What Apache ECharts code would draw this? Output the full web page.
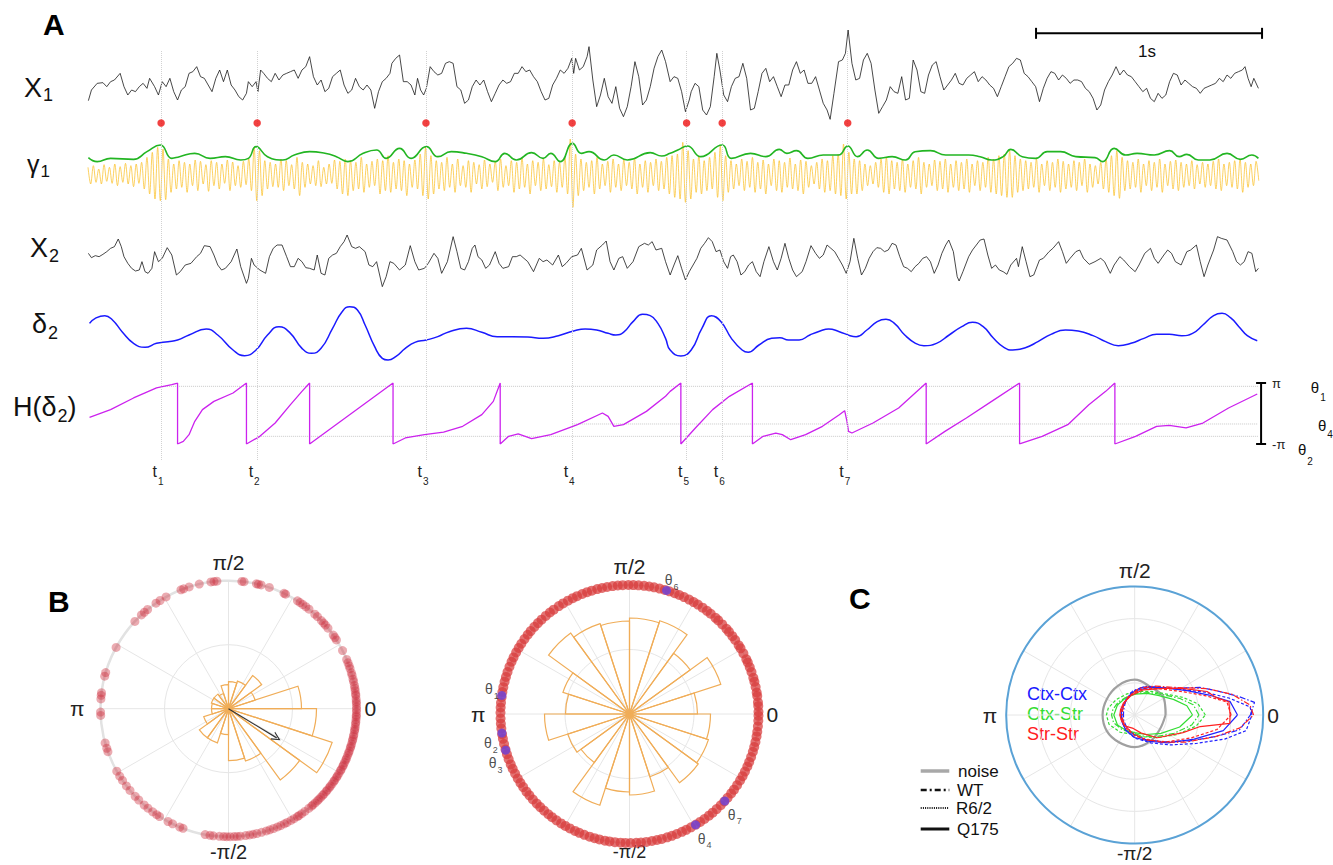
<!DOCTYPE html>
<html><head><meta charset="utf-8">
<script src="https://cdn.jsdelivr.net/npm/echarts@6/dist/echarts.min.js"></script>
<style>html,body{margin:0;padding:0;background:#fff}#c{width:1333px;height:865px}</style>
</head><body><div id="c"></div>
<script>
const FONT = '"Liberation Sans", Arial, Helvetica, sans-serif';
// ---------------- DATA ----------------
// sampling rate of the traces (samples per second)
const FS = 590.5;
// X1 raw trace: [sample, amplitude]
const x1 = [[1,-42],[9,-10],[24,10],[39,12],[49,0],[59,15],[69,20],[84,40],[94,0],[104,-25],[114,-10],[124,-15],[134,0],[144,10],[154,-5],[161,25],[174,0],[184,-25],[194,15],[204,0],[214,25],[224,-15],[234,-40],[244,-10],[254,0],[264,40],[274,45],[284,60],[294,30],[304,25],[314,5],[324,-15],[334,25],[344,50],[354,15],[364,50],[374,5],[384,-10],[394,-30],[404,-40],[414,-20],[419,15],[429,0],[439,15],[444,-15],[451,50],[459,40],[469,25],[479,15],[489,40],[499,20],[509,35],[519,40],[529,45],[539,50],[549,25],[559,50],[569,60],[579,90],[589,30],[599,5],[609,20],[619,-15],[629,-5],[639,30],[649,40],[659,50],[669,5],[679,-20],[689,-10],[699,25],[709,0],[719,-10],[729,5],[739,-10],[749,-65],[759,-15],[769,15],[779,25],[789,40],[794,70],[804,85],[814,95],[824,15],[834,15],[844,5],[854,-25],[861,25],[869,-10],[877,-25],[884,-5],[894,60],[904,45],[914,35],[924,40],[934,70],[944,75],[954,70],[964,0],[974,-10],[984,-50],[994,-40],[1004,0],[1014,20],[1024,5],[1034,20],[1044,-15],[1054,-45],[1064,-20],[1074,5],[1084,20],[1094,10],[1104,15],[1114,40],[1124,40],[1134,60],[1144,45],[1154,50],[1164,30],[1174,15],[1184,-15],[1194,-40],[1204,-35],[1214,5],[1224,25],[1234,50],[1244,40],[1254,55],[1264,85],[1269,40],[1274,85],[1284,50],[1294,60],[1304,90],[1309,120],[1319,20],[1329,-60],[1339,-25],[1349,25],[1359,-30],[1369,-50],[1379,0],[1389,-65],[1399,-90],[1409,-60],[1419,0],[1429,75],[1439,30],[1449,-55],[1459,-40],[1469,0],[1479,55],[1489,90],[1499,110],[1509,75],[1521,15],[1531,30],[1541,25],[1551,-15],[1561,-75],[1571,-40],[1576,-15],[1586,10],[1596,0],[1606,-70],[1616,-85],[1626,-60],[1636,30],[1643,100],[1651,50],[1661,-25],[1671,-45],[1681,0],[1691,25],[1701,30],[1711,70],[1721,25],[1731,-70],[1741,-65],[1751,-15],[1761,40],[1771,55],[1781,15],[1791,30],[1801,0],[1811,-30],[1821,5],[1831,5],[1841,50],[1851,75],[1861,40],[1871,50],[1881,10],[1891,10],[1901,30],[1911,-10],[1921,-50],[1931,-70],[1939,-98],[1949,-20],[1961,75],[1971,80],[1979,100],[1986,170],[1996,70],[2006,20],[2016,25],[2026,80],[2036,100],[2046,70],[2056,-10],[2066,-80],[2076,-60],[2086,-40],[2096,0],[2106,-15],[2116,-20],[2126,30],[2136,-40],[2146,-35],[2156,80],[2166,50],[2176,-15],[2186,-20],[2196,35],[2206,65],[2216,75],[2226,30],[2236,-10],[2246,5],[2256,20],[2266,40],[2276,10],[2286,5],[2296,25],[2306,35],[2316,45],[2326,15],[2336,30],[2346,20],[2356,5],[2366,-5],[2376,-30],[2386,0],[2396,30],[2406,60],[2416,70],[2426,85],[2436,80],[2446,40],[2456,30],[2466,15],[2476,0],[2486,-45],[2496,-5],[2506,25],[2516,45],[2526,40],[2536,20],[2546,35],[2556,25],[2566,10],[2576,20],[2586,20],[2596,15],[2606,-5],[2616,-15],[2626,-35],[2636,-70],[2646,-55],[2656,-10],[2666,15],[2676,35],[2686,60],[2696,35],[2706,50],[2716,35],[2726,30],[2736,15],[2746,0],[2756,-15],[2766,-5],[2776,-35],[2786,-45],[2796,-20],[2806,-35],[2816,-25],[2826,15],[2836,40],[2846,35],[2856,5],[2866,20],[2876,10],[2886,0],[2896,-5],[2906,-20],[2916,-5],[2926,0],[2936,5],[2946,10],[2956,25],[2966,15],[2976,35],[2986,25],[2996,40],[3006,45],[3016,50],[3023,60],[3031,25],[3039,0],[3046,25],[3058,-5]];
// gamma-band filtered X1: alternating peak / trough values, one every GAMMA_STEP samples
const GAMMA_STEP = 7;
const gammaOsc = [20,-30,25,-25,15,-30,28,-22,20,-28,30,-35,22,-25,32,-30,25,-38,30,-28,
35,-45,50,-60,65,-75,80,-80,75,-77,45,-55,30,-45,
40,-40,35,-55,30,-35,42,-50,38,-30,28,-52,40,-35,35,-45,30,-28,42,-50,36,-35,25,-40,38,-32,45,-50,
80,-80,70,-65,40,-45,35,-38,
30,-40,45,-50,40,-35,28,-45,50,-65,35,-40,30,-30,25,-35,40,-38,20,-30,30,-28,42,-45,38,-60,45,-65,40,-50,35,-45,50,-55,30,-40,38,-35,45,-60,40,-50,55,-55,35,-45,45,-50,40,-65,30,-40,42,-45,60,-65,
80,-75,55,-60,
40,-45,35,-50,50,-40,30,-55,45,-35,25,-40,40,-55,35,-30,28,-45,42,-38,30,-25,38,-50,45,-40,25,-35,40,-55,35,-45,48,-40,30,-60,40,-35,35,-50,45,-45,28,-38,40,-55,35,-40,50,-60,
105,-100,60,-65,
45,-50,35,-40,40,-60,50,-45,30,-35,38,-55,45,-40,30,-50,42,-35,35,-45,48,-60,30,-40,40,-55,35,-35,45,-50,38,-45,50,-60,55,-70,60,-75,
95,-85,70,-75,
45,-55,55,-60,40,-50,50,-45,65,-70,
85,-80,55,-55,
40,-45,30,-35,45,-50,38,-40,50,-55,35,-45,42,-60,30,-35,45,-50,40,-55,35,-40,48,-45,30,-50,42,-60,38,-40,25,-30,35,-45,45,-55,40,-50,55,-60,60,-65,
90,-75,65,-60,
45,-60,40,-50,30,-35,25,-30,35,-40,45,-55,50,-60,40,-45,35,-50,45,-55,30,-40,40,-45,50,-60,35,-40,30,-35,42,-50,38,-45,45,-55,30,-40,40,-50,35,-45,45,-55,30,-35,40,-50,35,-40,50,-55,45,-60,55,-65,60,-70,
70,-70,55,-55,
45,-50,40,-45,35,-40,45,-55,30,-35,40,-50,35,-40,45,-55,38,-45,30,-40,40,-50,35,-35,45,-55,30,-40,25,-30,35,-45,45,-55,55,-65,
70,-73,50,-50,
40,-45,35,-40,45,-55,30,-35,40,-50,35,-40,45,-55,30,-35,38,-45,42,-50,35,-40,30,-35,40,-45,28,-30,35,-40,30,-35,38,-45,45,-50,30,-35,35,-40,40,-45,45,-55,35,-40,30,-35,38,-20];
// gamma amplitude envelope: [sample, amplitude]
const gammaEnv = [[1,42],[24,30],[59,40],[119,37],[154,60],[189,80],[219,40],[239,45],[279,55],[319,40],[359,45],[399,35],[419,40],[439,75],[469,45],[509,35],[539,50],[579,60],[619,55],[649,45],[679,30],[719,55],[754,65],[779,40],[814,70],[844,40],[884,75],[914,45],[949,60],[989,55],[1029,45],[1064,30],[1089,55],[1119,35],[1159,57],[1189,40],[1209,55],[1234,30],[1266,85],[1289,55],[1309,60],[1349,35],[1374,50],[1409,35],[1469,57],[1499,47],[1521,55],[1541,65],[1566,77],[1601,45],[1657,80],[1681,40],[1731,55],[1771,45],[1806,67],[1826,55],[1851,63],[1881,40],[1921,50],[1961,50],[1985,77],[2011,45],[2036,65],[2066,40],[2101,45],[2136,35],[2161,60],[2201,63],[2241,50],[2301,50],[2331,45],[2361,35],[2391,45],[2411,67],[2441,45],[2476,40],[2506,60],[2541,60],[2581,45],[2631,42],[2651,30],[2681,70],[2711,50],[2741,55],[2786,50],[2826,63],[2851,45],[2871,52],[2901,35],[2931,35],[2976,55],[3011,37],[3041,50],[3058,40]];
// X2 raw trace
const x2 = [[1,15],[9,2],[19,8],[29,5],[39,12],[49,20],[59,30],[69,35],[79,58],[87,35],[94,5],[104,-15],[114,-30],[124,-38],[134,-35],[141,-10],[149,-40],[157,-45],[167,-30],[174,20],[184,-10],[194,0],[207,32],[219,10],[231,-50],[241,-40],[254,-20],[269,-15],[284,5],[294,15],[304,38],[319,35],[329,10],[339,-20],[349,-35],[359,-30],[374,-10],[389,28],[399,-25],[414,-75],[419,-60],[427,0],[434,-20],[449,-35],[464,-45],[474,5],[484,30],[494,40],[507,40],[519,5],[529,-25],[539,-25],[549,0],[559,-10],[569,-28],[579,-30],[591,-35],[599,10],[609,-45],[619,-50],[629,0],[639,10],[649,15],[659,35],[669,50],[677,70],[689,35],[699,30],[709,35],[724,20],[734,-20],[744,-25],[754,-10],[769,-85],[779,-55],[789,-10],[799,-15],[814,-35],[829,-20],[842,38],[854,-10],[864,-35],[879,-30],[889,-15],[904,15],[914,0],[924,-45],[939,-10],[954,65],[964,20],[974,-30],[984,-35],[994,-10],[1004,30],[1011,40],[1019,5],[1029,-5],[1039,-30],[1049,-20],[1064,20],[1074,-15],[1084,-30],[1099,-25],[1109,5],[1119,5],[1129,10],[1139,0],[1149,-10],[1164,-40],[1179,0],[1189,-10],[1199,-5],[1214,-20],[1229,10],[1239,-25],[1249,-15],[1264,5],[1279,10],[1289,30],[1304,-35],[1319,-20],[1329,25],[1344,40],[1354,52],[1364,-10],[1374,-35],[1387,0],[1397,5],[1409,-30],[1424,-10],[1439,35],[1454,45],[1464,40],[1474,50],[1484,25],[1499,30],[1509,-10],[1521,-50],[1531,-20],[1541,8],[1551,-30],[1561,-65],[1571,-40],[1581,-20],[1591,0],[1601,30],[1611,45],[1621,62],[1631,50],[1641,20],[1651,25],[1661,-10],[1671,-30],[1679,5],[1686,10],[1696,-10],[1706,-50],[1716,-40],[1726,-20],[1736,-10],[1746,-40],[1756,-55],[1766,-10],[1779,35],[1791,-10],[1801,-35],[1811,0],[1821,45],[1831,0],[1841,-35],[1851,-55],[1866,-40],[1876,-10],[1889,38],[1901,15],[1911,0],[1921,10],[1931,40],[1941,30],[1951,20],[1961,0],[1971,-20],[1981,-45],[1991,-10],[2001,60],[2011,0],[2021,-50],[2031,-30],[2041,0],[2051,20],[2061,32],[2071,30],[2081,20],[2091,25],[2101,45],[2111,40],[2121,5],[2131,-25],[2141,-30],[2151,-40],[2161,-25],[2171,-15],[2181,0],[2191,5],[2201,-10],[2211,-45],[2221,-20],[2231,15],[2241,40],[2249,55],[2261,20],[2271,-55],[2276,-68],[2286,-40],[2301,5],[2311,25],[2321,40],[2331,55],[2341,58],[2351,10],[2361,-30],[2371,-20],[2381,-35],[2391,-40],[2401,-48],[2411,-20],[2426,0],[2431,-25],[2441,35],[2451,-10],[2461,-55],[2471,-50],[2486,-5],[2496,0],[2511,20],[2521,30],[2536,50],[2546,20],[2556,-15],[2566,0],[2581,20],[2591,25],[2601,0],[2616,-18],[2631,-10],[2646,0],[2656,-10],[2671,-45],[2681,-20],[2696,5],[2706,-5],[2721,-25],[2736,-40],[2746,-20],[2761,15],[2776,30],[2786,0],[2796,-15],[2811,10],[2821,25],[2831,15],[2841,-10],[2856,-20],[2871,20],[2881,25],[2896,40],[2906,-10],[2916,-55],[2926,-20],[2941,25],[2951,65],[2961,60],[2976,55],[2991,20],[3001,-10],[3011,-20],[3021,-10],[3031,20],[3041,15],[3051,-40],[3058,-30]];
// delta-band filtered X2
const delta2 = [[4,25],[19,40],[44,48],[64,35],[89,0],[119,-35],[149,-47],[179,-35],[209,-30],[234,-25],[264,-10],[309,8],[339,-10],[379,-55],[409,-72],[439,-55],[469,-10],[499,15],[529,-5],[559,-50],[584,-65],[609,-50],[639,10],[664,60],[684,75],[704,65],[724,20],[749,-45],[769,-80],[784,-85],[804,-75],[829,-50],[854,-32],[884,-25],[914,-15],[944,0],[989,10],[1029,-2],[1069,-15],[1109,-15],[1149,-16],[1189,-20],[1229,-12],[1269,2],[1299,8],[1329,5],[1359,-5],[1379,-10],[1399,-2],[1424,30],[1449,52],[1469,48],[1489,25],[1509,-20],[1521,-55],[1549,-73],[1576,-55],[1604,10],[1629,48],[1654,30],[1681,-20],[1709,-55],[1725,-62],[1753,-40],[1786,-20],[1808,-18],[1830,-25],[1858,-25],[1886,-10],[1913,2],[1935,8],[1963,0],[1991,-12],[2007,-15],[2035,5],[2062,30],[2085,37],[2107,25],[2134,-10],[2162,-35],[2184,-42],[2217,-35],[2250,-10],[2283,15],[2311,28],[2339,15],[2366,-20],[2394,-48],[2416,-55],[2449,-48],[2482,-30],[2516,-8],[2554,5],[2587,2],[2626,-12],[2659,-30],[2692,-42],[2725,-35],[2759,-20],[2792,-8],[2825,-8],[2858,-12],[2886,-5],[2913,20],[2941,48],[2963,55],[2985,42],[3007,15],[3029,-12],[3055,-27]];
// Hilbert phase of delta2 (radians)
const hPhase = [[4,-0.40],[59,0.40],[119,1.60],[179,2.63],[219,2.97],[234,3.14],[234,-3.14],[249,-2.87],[264,-2.18],[279,-0.81],[299,0.40],[329,1.25],[379,2.11],[414,3.14],[414,-3.14],[449,-2.35],[489,-0.98],[529,0.91],[559,2.28],[579,3.14],[579,-3.14],[797,3.14],[797,-3.14],[829,-2.52],[879,-2.18],[929,-1.91],[979,-1.32],[1029,-0.12],[1059,1.25],[1077,3.14],[1077,-3.14],[1099,-2.35],[1124,-2.11],[1159,-2.59],[1209,-2.18],[1279,-1.15],[1344,0.05],[1359,-0.29],[1374,-1.32],[1399,-1.15],[1459,0.22],[1509,1.77],[1521,2.28],[1549,3.14],[1549,-3.14],[1587,-1.49],[1632,0.40],[1676,1.77],[1736,3.14],[1736,-3.14],[1764,-2.35],[1797,-2.01],[1814,-2.18],[1836,-2.70],[1875,-2.18],[1919,-1.32],[1963,-0.12],[1977,0.29],[1983,-0.81],[1987,-1.84],[1996,-2.01],[2051,-0.98],[2118,0.57],[2190,3.14],[2190,-3.14],[2239,-1.84],[2295,-0.46],[2361,1.25],[2434,3.14],[2434,-3.14],[2493,-2.35],[2560,-1.15],[2615,0.91],[2659,2.28],[2683,3.14],[2683,-3.14],[2737,-2.35],[2792,-1.32],[2825,-1.22],[2869,-1.49],[2913,-0.98],[2980,0.57],[3055,2.01]];
// gamma events t1..t7 (samples)
const eventTimes = [191, 442, 883, 1265, 1564, 1657, 1985];
const eventNames = ['1','2','3','4','5','6','7'];
// phase levels theta_i drawn in H(delta2)
const thetaNames = ['1','2','4'];
const thetaTimes = [191, 442, 1265];
const thetaPhases = [2.80, -2.35, -1.08];
// scale bar start (samples)
const scaleBarStart = 2477;

// Panel B: rose histogram bins (18 degree bins from 0, counter-clockwise)
const roseBins = ['0','18','36','54','72','90','108','126','144','162','180','198','216','234','252','270','288','306','324','342'];
const roseLeft = [73,28,41,29,27,24,16,18,18,17,17,26,36,36,26,52,55,88,109,88];
const roseMiddle = [68,96,75,98,96,93,95,100,70,64,85,65,60,96,78,81,66,85,83,81];
// phases (degrees) of the individual events, left plot
const phasesLeft = [111.8,110.5,107.9,103.2,97.9,96.5,95.2,84,83,77.4,76.5,75.2,71.4,64.3,63.5,57.4,56,54.5,52.8,51,47.6,46,43.5,42,40.8,39,35.1,33.8,32.5,27,22.6,21,19.5,18.2,16.3,15.1,13.3,12.2,10.4,9.2,8.1,6.6,5.9,4.3,3.1,2.2,0.8,-0.4,-1.5,-2.9,-3.6,-4.8,-6.1,-6.9,-8.3,-9.4,-10.2,-11.7,-12.5,-13.8,-14.6,-16.0,-17.2,-17.9,-19.4,-20.3,-21.5,-22.8,-23.6,-24.9,-26.1,-26.8,-28.3,-29.0,-30.4,-31.7,-32.5,-33.9,-34.6,-36.0,-37.2,-38.1,-39.5,-40.3,-41.8,-42.6,-43.9,-45.1,-46.0,-47.4,-48.7,-49.5,-51.2,-53.4,-55.1,-56.6,-57.4,-59.2,-60.8,-62.8,-64.1,-65.9,-67.5,-69.4,-71.2,-72.8,-75.0,-77.2,-78.9,-80.5,-82.3,-84.7,-86.1,-87.5,-89.3,-90.8,-92.2,-94.1,-96.8,-98.3,-100.5,-110.8,-112.4,-115.9,-118.2,-122.6,-124.1,-126.3,-129,-131.2,-134.5,-136.8,-140.3,-142.9,-145.9,-148.2,-150.8,-160.4,-162,-164.5,-177,-178.5,175.6,174,172.8,165.3,163.6,151.4,137,132.9,131.1,129.2,124.5,122.3,119.2];
// mean resultant vector, left plot
const meanAngle = -31.2, meanLength = 0.44;
// phases (degrees), middle plot
const phasesMiddle = [1,3.5,5.2,8,9.6,12.1,14.5,16.3,19,21.2,23.5,25.1,28,30.6,32.2,35,37.1,39.5,41.3,44,46.5,48.2,51,53.1,55.5,58,60.2,62.5,65,67.3,69.5,72,74.1,76.5,79,81.2,83.5,86,88.3,90.5,93,95.2,97.5,100,102.3,104.5,107,109.2,111.5,114,116.1,118.5,121,123.2,126,128.1,130.5,133,135.2,137.5,140,142.1,144.5,147,149.2,151.5,154,156.1,158.5,161,163.3,165.5,168,170.2,172.5,175,177.1,179.5,182,184.3,186.5,189,191.1,193.5,196,198.2,200.5,203,205.1,207.5,210,212.3,214.5,217,219.1,221.5,224,226.2,228.5,231,233.1,235.5,238,240.2,242.5,245,247.1,249.5,252,254.3,256.5,259,261.1,263.5,266,268.2,270.5,273,275.1,277.5,280,282.3,284.5,287,289.2,291.5,294,296.1,298.5,301,303.2,305.5,308,310.1,312.5,315,317.3,319.5,322,324.1,326.5,329,331.2,333.5,336,338.1,340.5,343,345.2,347.5,350,352.1,354.5,357,359.2];
// phases of the seven marked events (degrees)
const thetaMarkNames = ['6','1','2','3','7','4'];
const thetaMarkAngles = [73.3, 171.7, 188.5, 196.3, 317.6, 300.8];

// Panel C: phase-locking contours [angle deg, radius]
const noiseCurve = [[0,0.96],[30,1.05],[60,1.0],[90,1.1],[120,1.05],[150,1.0],[180,1.0],[210,1.0],[240,0.98],[270,1.0],[300,0.95],[330,0.9],[360,0.96]];
const ctxCtxWT = [[0,3.6],[6,3.75],[10,3.3],[16,2.7],[23,2.2],[35,1.45],[50,1.1],[70,0.95],[95,0.75],[125,0.5],[155,0.38],[180,0.35],[205,0.38],[235,0.45],[265,0.6],[295,0.85],[318,1.25],[335,1.9],[345,2.6],[352,3.3],[360,3.6]];
const ctxCtxR62 = [[0,3.65],[4,3.6],[10,3.0],[18,2.3],[30,1.6],[50,1.15],[75,0.9],[100,0.7],[130,0.5],[160,0.42],[180,0.4],[210,0.45],[240,0.55],[270,0.72],[300,1.0],[320,1.45],[335,2.1],[345,2.9],[352,3.5],[360,3.65]];
const ctxCtxQ175 = [[0,3.2],[8,3.0],[15,2.4],[25,1.8],[40,1.3],[60,1.0],[90,0.75],[120,0.55],[150,0.45],[180,0.42],[210,0.45],[240,0.55],[270,0.7],[300,0.95],[320,1.35],[338,2.0],[350,2.8],[360,3.2]];
const strStrWT = [[0,3.7],[5,3.6],[12,3.1],[20,2.4],[35,1.5],[55,1.1],[80,0.85],[110,0.6],[140,0.45],[170,0.4],[200,0.4],[230,0.45],[260,0.55],[290,0.8],[315,1.2],[332,1.8],[345,2.6],[353,3.3],[360,3.7]];
const strStrR62 = [[0,3.0],[8,2.9],[15,2.3],[25,1.7],[45,1.15],[70,0.9],[100,0.65],[130,0.5],[160,0.45],[180,0.45],[210,0.45],[240,0.5],[270,0.65],[300,0.9],[320,1.3],[338,1.9],[350,2.6],[360,3.0]];
const strStrQ175 = [[0,2.97],[8,2.96],[12,2.6],[18,2.37],[28,1.75],[40,1.3],[71,0.83],[100,0.62],[134,0.51],[160,0.47],[180,0.46],[200,0.45],[230,0.45],[264,0.42],[290,0.6],[315,1.0],[340,1.6],[350,2.07],[355,2.97],[360,2.97]];
const ctxStrWT = [[0,2.0],[10,1.85],[20,1.5],[35,1.1],[55,0.85],[80,0.7],[110,0.62],[140,0.65],[165,0.7],[180,0.72],[200,0.7],[230,0.6],[260,0.55],[290,0.7],[315,0.95],[335,1.35],[350,1.8],[360,2.0]];
const ctxStrR62 = [[0,2.2],[10,2.0],[20,1.6],[35,1.15],[55,0.9],[80,0.75],[110,0.7],[140,0.75],[165,0.85],[180,0.88],[200,0.85],[230,0.7],[260,0.6],[290,0.72],[315,1.0],[335,1.45],[350,1.95],[360,2.2]];
const ctxStrQ175 = [[0,1.8],[10,1.65],[22,1.3],[40,0.95],[60,0.78],[90,0.65],[120,0.6],[150,0.62],[180,0.65],[210,0.62],[240,0.55],[270,0.55],[300,0.7],[325,1.0],[345,1.45],[360,1.8]];

// ---------------- LAYOUT / STYLE ----------------
const X_MAX = 3070;
const grids = [
  {top: 20, height: 100}, {top: 110, height: 100}, {top: 225, height: 70},
  {top: 295, height: 70}, {top: 383, height: 61}, {top: 51, height: 409}
].map(g => ({left: 88, width: 1175, top: g.top, height: g.height}));
// last entry: separate offset axis for the gamma oscillation inside grid 1
const yRanges = [[-100, 200], [-115, 185], [-110, 100], [-100, 110], [-Math.PI, Math.PI], [0, 1], [-108, 192]];
const yGrid = [0, 1, 2, 3, 4, 5, 1];
const DOT_LEVEL = 146, SCALE_LEVEL = 160, HBAR_N = 3065;
const ORANGE = '#f0ad58';
const norm = a => ((a % 360) + 360) % 360;

function trace(i, data, color, width, extra) {
  return Object.assign({type: 'line', xAxisIndex: i, yAxisIndex: i, data, symbol: 'none', showSymbol: false,
    silent: true, lineStyle: {color, width}}, extra || {});
}
// pads: extra distance of the 0 / π/2 / π labels from the circle; bottomSize: font size of -π/2
function valueAngle(polarIndex, color, width, margin, pads, bottomSize) {
  const lbl = {0: '{r|0}', 90: '{t|π/2}', 180: '{l|π}', 270: '{b|-π/2}'};
  const tok = (size, padding) => ({fontSize: size, fontFamily: FONT, color: '#222', padding});
  return {polarIndex, type: 'value', min: 0, max: 360, interval: 30, startAngle: 0, clockwise: false,
    axisLine: {show: true, lineStyle: {color, width}}, axisTick: {show: false},
    splitLine: {show: true, lineStyle: {color: '#e6e6e6', width: 1}},
    axisLabel: {show: true, margin, fontFamily: FONT, fontSize: 21, color: '#222',
      rich: {r: tok(21, [0, 0, 0, pads[0]]), t: tok(21, [0, 0, pads[1], 0]), l: tok(21, [0, pads[2], 0, 0]),
             b: {fontSize: bottomSize, lineHeight: bottomSize - 2, fontFamily: FONT, color: '#222'}},
      formatter: v => (lbl[v] !== undefined ? lbl[v] : '')}};
}
function valueRadius(polarIndex, max, interval) {
  return {polarIndex, type: 'value', min: 0, max, interval, axisLine: {show: false}, axisTick: {show: false},
    axisLabel: {show: false}, splitLine: {show: true, lineStyle: {color: '#e6e6e6', width: 1}}};
}
function catAngle(polarIndex) {
  return {polarIndex, type: 'category', data: roseBins, startAngle: 0, clockwise: false, boundaryGap: true,
    axisLine: {show: false}, axisTick: {show: false}, axisLabel: {show: false}, splitLine: {show: false}};
}
function hiddenRadius(polarIndex, max) {
  return {polarIndex, type: 'value', min: 0, max, axisLine: {show: false}, axisTick: {show: false},
    axisLabel: {show: false}, splitLine: {show: false}};
}
const RICH = (mSize, sSize, drop, color) => ({
  m: {fontSize: mSize, lineHeight: mSize, fontFamily: FONT, verticalAlign: 'top', fill: color || '#111', color: color || '#111'},
  s: {fontSize: sSize, lineHeight: sSize, fontFamily: FONT, verticalAlign: 'top', padding: [drop, 0, 0, 1], fill: color || '#111', color: color || '#111'}
});
function rtext(x, y, text, rich) {
  return {type: 'text', x, y, silent: true, style: {text, rich, align: 'left', verticalAlign: 'top', fill: '#111', font: '16px ' + FONT}};
}
function ptext(x, y, text, font, color, align, vAlign) {
  return {type: 'text', x, y, silent: true, style: {text, font: font + ' ' + FONT, fill: color || '#111', align: align || 'left', verticalAlign: vAlign || 'middle'}};
}
function gline(x1, y1, x2, y2, color, width, dash) {
  return {type: 'line', silent: true, shape: {x1, y1, x2, y2}, style: {stroke: color, lineWidth: width, lineDash: dash || null}};
}

const series = [];
// event lines + t labels
series.push({type: 'line', xAxisIndex: 5, yAxisIndex: 5, data: [[0, 0]], symbol: 'none', lineStyle: {width: 0}, silent: true, z: 1,
  markLine: {silent: true, symbol: 'none', animation: false,
    lineStyle: {type: 'dotted', color: '#d2d2d2', width: 1},
    label: {show: true, position: 'start', distance: 3, offset: [-3, 0], formatter: p => '{t|t}{s|' + p.name + '}',
      rich: {t: {fontSize: 16, lineHeight: 16, verticalAlign: 'top', color: '#222', fontFamily: FONT},
             s: {fontSize: 10, lineHeight: 10, verticalAlign: 'top', padding: [13, 0, 0, 1], color: '#222', fontFamily: FONT}}},
    data: eventTimes.map((t, i) => ({xAxis: t, name: eventNames[i]}))}});
series.push(trace(0, x1, '#1a1a1a', 0.8, {z: 3}));
series.push(trace(0, [[scaleBarStart, SCALE_LEVEL], [scaleBarStart + FS, SCALE_LEVEL]], '#000', 2,
  {symbol: 'rect', showSymbol: true, symbolSize: [2, 11], itemStyle: {color: '#000'}, z: 4}));
series.push(trace(1, gammaOsc.map((v, i) => [i * GAMMA_STEP, v]), '#fbc22c', 0.75, {yAxisIndex: 6, smooth: 0.35, z: 3}));
series.push(trace(1, gammaEnv, '#22b522', 1.6, {smooth: true, z: 4}));
series.push({type: 'scatter', xAxisIndex: 1, yAxisIndex: 1, data: eventTimes.map(t => [t, DOT_LEVEL]), symbolSize: 7.5,
  itemStyle: {color: '#ee1111'}, silent: true, z: 5});
series.push(trace(2, x2, '#1a1a1a', 0.8, {z: 3}));
series.push(trace(3, delta2, '#1a1aff', 1.5, {smooth: true, z: 3}));
thetaTimes.forEach((t, i) => series.push(trace(4, [[t, thetaPhases[i]], [HBAR_N - 8, thetaPhases[i]]], '#c8c8c8', 1,
  {lineStyle: {color: '#c8c8c8', width: 1, type: 'dotted'}, z: 2})));
series.push(trace(4, hPhase, '#cc22ee', 1.3, {z: 3}));
series.push(trace(4, [{value: [HBAR_N, Math.PI], label: {formatter: 'π'}}, {value: [HBAR_N, -Math.PI], label: {formatter: '-π'}}], '#000', 2,
  {symbol: 'rect', showSymbol: true, symbolSize: [10, 2], itemStyle: {color: '#000'}, clip: false, z: 4,
   label: {show: true, position: 'right', distance: 6, fontSize: 13, color: '#222', fontFamily: FONT}}));

// Panel B left
series.push({type: 'bar', coordinateSystem: 'polar', polarIndex: 1, data: roseLeft, barCategoryGap: '0%', silent: true, z: 3,
  itemStyle: {color: 'rgba(255,255,255,0)', borderColor: ORANGE, borderWidth: 1.2}});
series.push({type: 'scatter', coordinateSystem: 'polar', polarIndex: 0, data: phasesLeft.map(a => [1, norm(a)]), symbolSize: 9,
  itemStyle: {color: 'rgba(205,45,60,0.5)'}, silent: true, z: 4,
  markLine: {silent: true, animation: false, symbol: ['none', 'path://M0,10 L5,0 L10,10 L8.6,10 L5,2.8 L1.4,10 Z'], symbolSize: [9, 9],
    lineStyle: {color: '#333', width: 1.2, type: 'solid'}, label: {show: false},
    data: [[{coord: [0, norm(meanAngle)]}, {coord: [meanLength, norm(meanAngle)]}]]}});
// Panel B middle
series.push({type: 'bar', coordinateSystem: 'polar', polarIndex: 3, data: roseMiddle, barCategoryGap: '0%', silent: true, z: 3,
  itemStyle: {color: 'rgba(255,255,255,0)', borderColor: ORANGE, borderWidth: 1.2}});
series.push({type: 'scatter', coordinateSystem: 'polar', polarIndex: 2, data: phasesMiddle.map(a => [1, norm(a)]), symbolSize: 10,
  itemStyle: {color: 'rgba(216,60,60,0.9)'}, silent: true, z: 4});
const thetaOffsets = [[5, -10], [-10, -6], [-11, 10], [-10, 13], [10, 14], [9, 14]];
series.push({type: 'scatter', coordinateSystem: 'polar', polarIndex: 2, silent: true, z: 5, symbolSize: 9,
  itemStyle: {color: '#6a44dd'},
  data: thetaMarkAngles.map((a, i) => ({value: [1, norm(a)], name: thetaMarkNames[i],
    label: {show: true, position: 'inside', offset: thetaOffsets[i], formatter: '{m|θ}{s|' + thetaMarkNames[i] + '}',
      rich: {m: {fontSize: 14, lineHeight: 14, verticalAlign: 'top', color: '#222', fontFamily: FONT},
             s: {fontSize: 9, lineHeight: 9, verticalAlign: 'top', padding: [9, 0, 0, 1], color: '#222', fontFamily: FONT}}}}))});
// Panel C
function cLine(data, color, type, width, smooth) {
  return {type: 'line', coordinateSystem: 'polar', polarIndex: 4, data: data.map(([a, r]) => [r, a]), symbol: 'none',
    silent: true, z: 4, smooth: smooth || false, lineStyle: {color, width: width || 1.2, type}};
}
const DASHDOT = [6, 2, 1.5, 2], DASH = [3, 2];
series.push(cLine(noiseCurve, '#a0a0a0', 'solid', 2.2, 0.4));
series.push(cLine(ctxStrWT, '#33dd33', DASHDOT));
series.push(cLine(ctxStrR62, '#33dd33', DASH));
series.push(cLine(ctxStrQ175, '#33dd33', 'solid'));
series.push(cLine(ctxCtxWT, '#2222ff', DASHDOT));
series.push(cLine(ctxCtxR62, '#2222ff', DASH));
series.push(cLine(ctxCtxQ175, '#2222ff', 'solid'));
series.push(cLine(strStrWT, '#ff2020', DASHDOT));
series.push(cLine(strStrR62, '#ff2020', DASH));
series.push(cLine(strStrQ175, '#ff2020', 'solid'));

const graphic = [
  ptext(43, 24, 'A', 'bold 30px', '#000'),
  ptext(48, 601, 'B', 'bold 30px', '#000'),
  ptext(849, 598, 'C', 'bold 30px', '#000'),
  rtext(24, 74, '{m|X}{s|1}', RICH(27, 18, 12)),
  rtext(27, 151, '{m|γ}{s|1}', RICH(25, 17, 12)),
  rtext(30, 234.5, '{m|X}{s|2}', RICH(27, 18, 12)),
  rtext(32, 310, '{m|δ}{s|2}', RICH(27, 18, 14)),
  rtext(13, 393.5, '{m|H(δ}{s|2}{m|)}', RICH(27, 18, 13.5)),
  ptext(1147, 51, '1s', '17px', '#111', 'center'),
  rtext(1310.8, 380, '{m|θ}{s|1}', RICH(15, 10, 12)),
  rtext(1318, 417.5, '{m|θ}{s|4}', RICH(15, 10, 12)),
  rtext(1298, 441.5, '{m|θ}{s|2}', RICH(15, 10, 14.5)),
  ptext(1027, 693.5, 'Ctx-Ctx', '18px', '#1a1aff'),
  ptext(1027, 713.5, 'Ctx-Str', '18px', '#33dd33'),
  ptext(1027, 734, 'Str-Str', '18px', '#ff2020'),
  gline(920.7, 771, 949.3, 771, '#a8a8a8', 3.5),
  gline(920.7, 790, 949.3, 790, '#111', 2.5, [6, 3, 2, 3]),
  gline(920.7, 808, 949.3, 808, '#111', 2, [1, 1.2]),
  gline(920.7, 829, 949.3, 829, '#111', 3),
  ptext(958, 771, 'noise', '17px', '#111'),
  ptext(957, 790, 'WT', '17px', '#111'),
  ptext(956, 808, 'R6/2', '17px', '#111'),
  ptext(957, 829, 'Q175', '17px', '#111')
];

const option = {
  animation: false,
  backgroundColor: '#fff',
  grid: grids,
  xAxis: grids.map((g, i) => ({gridIndex: i, type: 'value', min: 0, max: X_MAX, show: false})),
  yAxis: yRanges.map((r, i) => ({gridIndex: yGrid[i], type: 'value', min: r[0], max: r[1], show: false})),
  polar: [
    {center: [228.5, 708.7], radius: 128}, {center: [228.5, 708.7], radius: 128},
    {center: [629.5, 714], radius: 129}, {center: [629.5, 714], radius: 129},
    {center: [1134.7, 715], radius: 128.5}
  ],
  angleAxis: [valueAngle(0, '#e2e2e2', 2.5, 6, [2, 2, 10], 20), catAngle(1),
              valueAngle(2, '#e2e2e2', 1, 1, [7, 7, 14], 18), catAngle(3),
              valueAngle(4, '#5aa2d6', 2, 1, [3, 5, 8], 19)],
  radiusAxis: [valueRadius(0, 1, 0.5), hiddenRadius(1, 128), valueRadius(2, 1, 0.5), hiddenRadius(3, 129), valueRadius(4, 4, 1)],
  series,
  graphic
};
const chart = echarts.init(document.getElementById('c'), null, {renderer: 'svg', width: 1333, height: 865});
chart.setOption(option);
</script></body></html>
